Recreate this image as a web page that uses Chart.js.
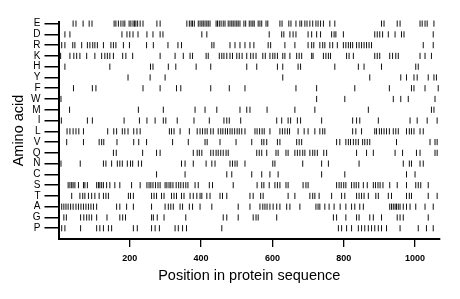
<!DOCTYPE html>
<html><head><meta charset="utf-8">
<script src="https://cdn.jsdelivr.net/npm/chart.js@4"></script>
<style>html,body{margin:0;padding:0;background:#fff}canvas{display:block}</style>
</head><body>
<canvas id="c" width="460" height="299"></canvas>
<script>
const aminoAcids = ['E','D','R','K','H','Y','F','W','M','I','L','V','Q','N','C','S','T','A','G','P'];
const xTicks = [200, 400, 600, 800, 1000];
const sequenceLength = 1070;

const posE = [41,49,69,86,94,156,161,168,175,181,186,198,203,209,213,217,222,229,237,276,285,360,367,372,376,381,392,397,402,406,411,416,420,425,442,446,451,456,462,467,476,481,486,490,495,500,504,509,520,525,535,540,545,549,560,565,570,582,587,621,627,646,652,666,677,682,691,697,705,713,722,728,735,743,761,775,906,913,950,958,1014,1020,1028,1034,1053];
const posD = [18,32,178,192,200,209,223,248,265,285,293,402,416,591,626,632,649,658,666,700,710,724,735,766,773,778,799,887,894,901,909,925,944,962,969,1051];
const posR = [9,18,40,46,65,81,88,96,102,109,126,147,154,161,182,199,247,266,307,335,345,430,436,481,495,509,523,537,548,588,595,635,663,700,710,716,733,741,747,761,769,782,799,806,813,819,825,836,843,850,857,864,871,878,1023,1051];
const posK = [6,32,43,51,60,79,102,121,130,137,144,154,180,189,208,285,327,350,369,376,414,420,451,458,464,472,481,488,500,507,515,528,539,546,554,573,580,593,601,607,614,629,635,649,668,675,682,710,714,743,750,757,763,808,815,827,887,894,901,929,937,946,953,1014,1028,1046];
const posH = [18,144,258,265,308,329,386,427,528,556,614,629,672,679,775,841,857,906,1002,1009];
const posY = [195,257,299,629,873,960,976,997,1006,1037,1053,1060];
const posF = [42,95,105,237,285,331,343,427,479,523,666,724,831,928,990,997,1028,1065];
const posW = [7,724,803,939,960,981,1056];
const posM = [31,224,294,383,411,444,509,528,537,585,663,719,869,1046,1053];
const posI = [8,81,95,184,227,248,271,294,301,333,380,423,464,472,479,511,612,626,644,651,670,679,738,825,836,845,897,986,1006,1034,1062];
const posL = [24,32,41,49,57,70,138,155,163,179,186,195,211,220,229,311,317,324,341,367,389,397,404,411,417,427,434,448,455,461,468,474,481,487,494,501,507,514,523,551,557,564,571,577,593,621,628,635,642,648,672,689,700,719,733,741,747,825,834,850,887,892,900,906,913,920,928,939,946,953,976,984,990,997,1014,1023];
const posV = [23,70,114,121,127,164,211,225,247,320,364,411,417,453,498,542,570,576,584,614,621,668,675,682,780,789,806,813,819,827,834,841,853,859,866,873,948,1042,1056,1062];
const posQ = [154,162,236,275,285,378,389,395,402,427,434,442,448,455,462,470,476,556,563,570,584,610,616,638,644,663,670,677,685,691,705,713,719,726,744,752,836,864,883,944,965,1004,1014,1056,1062];
const posN = [7,61,126,133,149,165,172,179,193,202,208,224,233,345,355,378,414,430,439,481,488,495,501,523,601,607,685,738,757,843,967,984,990,1014,1023];
const posC = [275,355,472,486,542,570,593,616,738,803,976,1000];
const posS = [2,27,32,37,41,46,56,70,74,81,107,112,116,121,126,135,144,158,172,205,229,248,254,259,265,272,279,285,299,304,310,315,321,330,337,343,350,357,363,383,392,423,432,490,557,570,576,591,607,614,621,638,644,686,694,700,780,787,793,800,806,822,829,835,842,855,866,883,889,896,902,910,929,950,976,1002,1009,1016,1037];
const posT = [37,60,68,74,84,93,102,114,126,133,140,196,202,210,261,268,275,289,296,317,324,331,345,352,369,378,388,397,402,416,425,453,460,472,537,546,567,574,644,663,705,713,719,731,766,794,803,836,843,850,857,869,890,897,925,934,976,984,990,1037,1062];
const posA = [2,9,15,21,27,34,41,49,56,63,70,77,84,91,98,107,163,172,191,210,261,299,308,315,322,341,348,367,376,397,430,504,537,565,573,579,585,593,602,612,621,640,649,677,722,728,733,747,759,773,790,806,822,831,845,855,929,934,939,944,948,953,958,967,976,986,1002,1028,1051];
const posG = [15,22,62,71,79,86,93,107,136,172,180,188,261,266,277,296,357,462,472,504,546,554,560,612,771,780,806,836,843,873,883,906,950,958,967,1037];
const posP = [9,18,62,107,116,126,140,149,210,221,261,271,283,327,336,348,359,458,785,794,808,822,841,850,859,869,878,887,897,906,920,958,1009,1032,1051];

const positionsByAcid = {E:posE,D:posD,R:posR,K:posK,H:posH,Y:posY,F:posF,W:posW,M:posM,I:posI,L:posL,V:posV,Q:posQ,N:posN,C:posC,S:posS,T:posT,A:posA,G:posG,P:posP};
const nRows = aminoAcids.length;

const datasets = aminoAcids.map((aa, i) => ({
  label: aa,
  data: positionsByAcid[aa].map(p => ({x: p, y: nRows - 1 - i})),
  pointStyle: 'line',
  rotation: 90,
  radius: 3.1,
  hoverRadius: 3.1,
  borderWidth: 1,
  borderColor: '#111',
  backgroundColor: '#111',
  showLine: false,
  clip: false
}));

new Chart(document.getElementById('c'), {
  type: 'scatter',
  data: {datasets},
  options: {
    responsive: false,
    animation: false,
    devicePixelRatio: 1,
    events: [],
    layout: {padding: {top: 22, right: 20, left: 0, bottom: 0}},
    plugins: {legend: {display: false}, tooltip: {enabled: false}},
    scales: {
      x: {
        type: 'linear', min: 0, max: sequenceLength,
        afterBuildTicks: s => { s.ticks = xTicks.map(v => ({value: v})); },
        afterFit: s => { s.height = 60; },
        grid: {drawOnChartArea: false, tickLength: 8, color: '#000', lineWidth: 1.3},
        border: {color: '#000', width: 2},
        ticks: {color: '#000', font: {family: 'Liberation Sans', size: 9, weight: 'bold'}, padding: 6, maxRotation: 0, autoSkip: false,
          callback: v => String(v)},
        title: {display: true, text: 'Position in protein sequence', color: '#000', font: {family: 'Liberation Sans', size: 14.5}, padding: {top: 0, bottom: 14}}
      },
      y: {
        type: 'linear', min: -1, max: 19.15,
        afterBuildTicks: s => { s.ticks = aminoAcids.map((_, i) => ({value: nRows - 1 - i})); },
        afterFit: s => { s.width = 58.5; },
        grid: {drawOnChartArea: false, tickLength: 14, color: '#000', lineWidth: 1.5},
        border: {color: '#000', width: 2},
        ticks: {color: '#000', font: {family: 'Liberation Sans', size: 10}, padding: 4, autoSkip: false,
          callback: v => aminoAcids[nRows - 1 - v]},
        title: {display: true, text: 'Amino acid', color: '#000', font: {family: 'Liberation Sans', size: 14.5}, padding: {top: 10, bottom: 0}}
      }
    }
  }
});
</script>
</body></html>
